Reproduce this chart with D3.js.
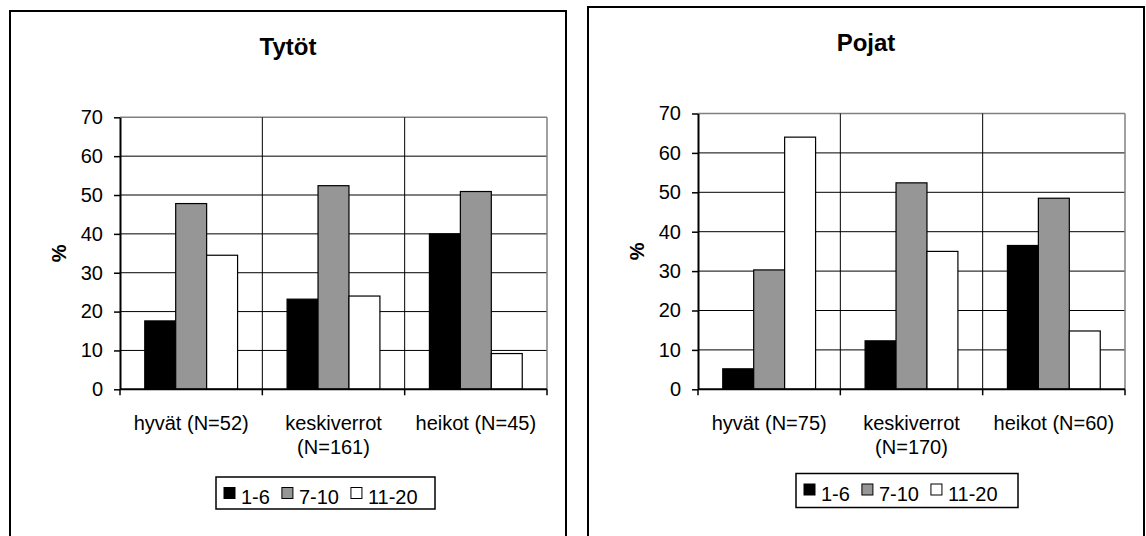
<!DOCTYPE html>
<html>
<head>
<meta charset="utf-8">
<script src="https://cdn.jsdelivr.net/npm/d3@7"></script>
<style>
  body { margin: 0; background: #fff; }
  svg text { font-family: Arial, 'Liberation Sans', sans-serif; fill: #000; }
</style>
</head>
<body>
<svg width="1146" height="536"></svg>
<script>
// data
var series_names = ['1-6', '7-10', '11-20'];
var series_colors = ['#000000', '#969696', '#ffffff'];
var y_ticks = [0, 10, 20, 30, 40, 50, 60, 70];

var girls_title = 'Tytöt';
var girls_categories = ['hyvät (N=52)', 'keskiverrot (N=161)', 'heikot (N=45)'];
var girls_1_6 = [17.6, 23.2, 40.0];
var girls_7_10 = [47.8, 52.4, 50.9];
var girls_11_20 = [34.5, 24.0, 9.2];

var boys_title = 'Pojat';
var boys_categories = ['hyvät (N=75)', 'keskiverrot (N=170)', 'heikot (N=60)'];
var boys_1_6 = [5.2, 12.3, 36.5];
var boys_7_10 = [30.3, 52.4, 48.5];
var boys_11_20 = [64.0, 35.0, 14.8];

var svg = d3.select('svg');

function draw_panel(cfg) {
  var g = svg.append('g');

  // outer frame (bottom edge runs off the picture)
  g.append('rect')
    .attr('x', cfg.fx).attr('y', cfg.fy)
    .attr('width', cfg.fw).attr('height', 560)
    .attr('fill', 'none').attr('stroke', '#000').attr('stroke-width', 2);

  g.append('text')
    .attr('x', cfg.fx + cfg.fw / 2).attr('y', cfg.title_y)
    .attr('text-anchor', 'middle')
    .style('font-size', '24px').style('font-weight', 'bold')
    .text(cfg.title);

  var x = d3.scaleBand().domain(cfg.categories).range([cfg.x0, cfg.x1]).padding(0);
  var x1 = d3.scaleBand().domain(series_names).range([0, x.bandwidth()]).paddingInner(0).paddingOuter(0.8);
  var y = d3.scaleLinear().domain([0, 70]).range([cfg.y0, cfg.y1]);

  // horizontal gridlines
  g.append('g').selectAll('line')
    .data(y_ticks.filter(function(d) { return d > 0; }))
    .enter().append('line')
    .attr('x1', cfg.x0).attr('x2', cfg.x1)
    .attr('y1', function(d) { return y(d); })
    .attr('y2', function(d) { return y(d); })
    .attr('stroke', function(d) { return d == 70 ? '#808080' : '#000'; })
    .attr('stroke-width', function(d) { return d == 70 ? 1.5 : 1; });

  // category dividers + right border
  g.append('g').selectAll('line')
    .data(cfg.categories.slice(1))
    .enter().append('line')
    .attr('x1', function(d) { return x(d); })
    .attr('x2', function(d) { return x(d); })
    .attr('y1', cfg.y1).attr('y2', cfg.y0)
    .attr('stroke', '#000').attr('stroke-width', 1);
  g.append('line')
    .attr('x1', cfg.x1).attr('x2', cfg.x1)
    .attr('y1', cfg.y1).attr('y2', cfg.y0)
    .attr('stroke', '#808080').attr('stroke-width', 1.5);

  // bars
  var rows = [];
  cfg.values.forEach(function(vals, si) {
    vals.forEach(function(v, ci) {
      rows.push({ cat: cfg.categories[ci], s: series_names[si], si: si, v: v });
    });
  });
  g.append('g').selectAll('rect')
    .data(rows)
    .enter().append('rect')
    .attr('x', function(d) { return x(d.cat) + x1(d.s); })
    .attr('y', function(d) { return y(d.v); })
    .attr('width', x1.bandwidth())
    .attr('height', function(d) { return y(0) - y(d.v); })
    .attr('fill', function(d) { return series_colors[d.si]; })
    .attr('stroke', '#000').attr('stroke-width', 1.2);

  // y axis
  var yAxis = d3.axisLeft(y).tickValues(y_ticks).tickSize(6).tickPadding(11).tickSizeOuter(0);
  var ya = g.append('g').attr('transform', 'translate(' + cfg.x0 + ',0)').call(yAxis);
  ya.select('.domain').attr('stroke-width', 2);
  ya.selectAll('.tick line').attr('stroke-width', 1.5);
  ya.selectAll('text').style('font-size', '20px').attr('font-family', null);

  // x axis line + boundary ticks
  g.append('line')
    .attr('x1', cfg.x0).attr('x2', cfg.x1)
    .attr('y1', cfg.y0).attr('y2', cfg.y0)
    .attr('stroke', '#000').attr('stroke-width', 2);
  var bounds = cfg.categories.map(function(d) { return x(d); }).concat([cfg.x1]);
  g.append('g').selectAll('line')
    .data(bounds)
    .enter().append('line')
    .attr('x1', function(d) { return d; }).attr('x2', function(d) { return d; })
    .attr('y1', cfg.y0).attr('y2', cfg.y0 + 6)
    .attr('stroke', '#000').attr('stroke-width', 1.5);

  // category labels, wrapped when wider than the band
  cfg.categories.forEach(function(c) {
    var t = g.append('text')
      .attr('text-anchor', 'middle')
      .style('font-size', '20px');
    t.text(c);
    var lines = [c];
    if (t.node().getComputedTextLength() > x.bandwidth() - 4) {
      var k = c.indexOf(' (');
      lines = [c.slice(0, k), c.slice(k + 1)];
    }
    t.text(null);
    lines.forEach(function(l, i) {
      t.append('tspan')
        .attr('x', x(c) + x.bandwidth() / 2)
        .attr('y', cfg.label_y + i * 24)
        .text(l);
    });
  });

  // % label
  g.append('text')
    .attr('transform', 'translate(' + cfg.pct_x + ',' + ((cfg.y0 + cfg.y1) / 2) + ') rotate(-90)')
    .attr('text-anchor', 'middle')
    .style('font-size', '20px').style('font-weight', 'bold')
    .text('%');

  // legend
  var lg = g.append('g').attr('transform', 'translate(' + cfg.lx + ',' + cfg.ly + ')');
  lg.append('rect')
    .attr('width', cfg.lw).attr('height', cfg.lh)
    .attr('fill', '#fff').attr('stroke', '#000').attr('stroke-width', 1.5);
  var cx = 8;
  series_names.forEach(function(s, i) {
    lg.append('rect')
      .attr('x', cx).attr('y', 10.5)
      .attr('width', 11).attr('height', 11)
      .attr('fill', series_colors[i]).attr('stroke', '#000').attr('stroke-width', 1);
    var t = lg.append('text')
      .attr('x', cx + 17).attr('y', 27)
      .style('font-size', '20px')
      .text(s);
    cx = cx + 17 + t.node().getComputedTextLength() + 12;
  });
}

draw_panel({
  title: girls_title, categories: girls_categories,
  values: [girls_1_6, girls_7_10, girls_11_20],
  fx: 10, fy: 11, fw: 556, title_y: 55,
  x0: 120, x1: 547, y0: 389.3, y1: 117.3,
  label_y: 430, pct_x: 66,
  lx: 216, ly: 477, lw: 219, lh: 32
});

draw_panel({
  title: boys_title, categories: boys_categories,
  values: [boys_1_6, boys_7_10, boys_11_20],
  fx: 588, fy: 7, fw: 556, title_y: 51,
  x0: 698, x1: 1125, y0: 389.3, y1: 113.5,
  label_y: 430, pct_x: 644,
  lx: 796, ly: 473.5, lw: 222, lh: 34
});
</script>
</body>
</html>
